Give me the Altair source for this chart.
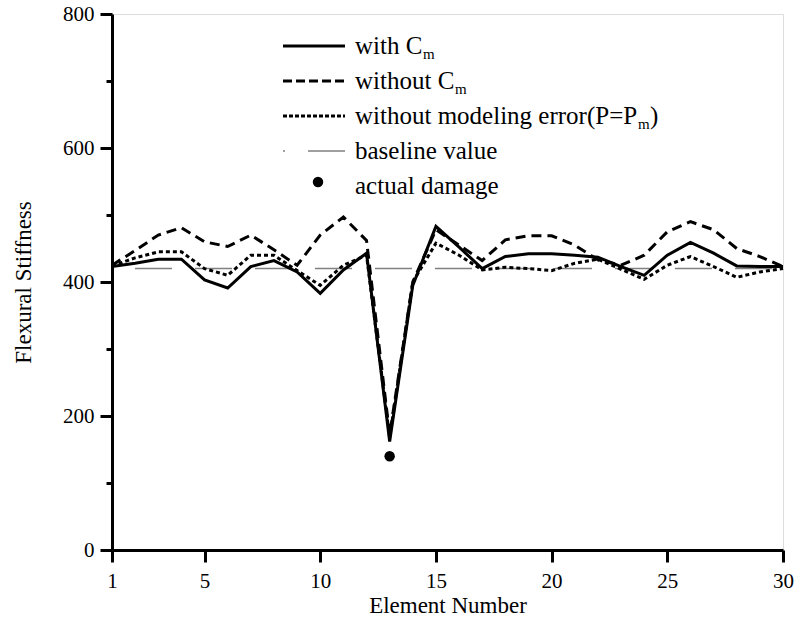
import altair as alt
import pandas as pd

# ---- data ----
elements = list(range(1, 31))
with_cm = [423, 428, 434, 434, 403, 391, 423, 432, 415, 383,
           418, 443, 162, 395, 483, 452, 420, 438, 442, 442,
           440, 437, 423, 410, 440, 459, 443, 424, 423, 423]
without_cm = [425, 447, 470, 481, 460, 453, 470, 448, 425, 470,
              497, 462, 172, 400, 478, 455, 432, 463, 469, 469,
              455, 433, 425, 440, 475, 490, 478, 450, 438, 423]
without_error = [424, 436, 445, 445, 420, 410, 440, 440, 417, 395,
                 425, 440, 168, 400, 458, 440, 418, 422, 420, 417,
                 428, 434, 419, 404, 425, 438, 423, 407, 415, 420]
baseline_value = 420
damage_element = [13]
damage_value = [140]
x_ticks = [1, 5, 10, 15, 20, 25, 30]
y_ticks = [0, 100, 200, 300, 400, 500, 600, 700, 800]

series_names = ["with", "without", "noerr"]
rows = []
for name, vals in zip(series_names, [with_cm, without_cm, without_error]):
    for e, v in zip(elements, vals):
        rows.append({"element": e, "value": v, "series": name})
df = pd.DataFrame(rows)
base_df = pd.DataFrame({"element": [elements[0], elements[-1]],
                        "value": [baseline_value, baseline_value]})
dmg_df = pd.DataFrame({"element": damage_element, "value": damage_value})
one = pd.DataFrame({"k": [0]})

FONT = "Liberation Serif"
LFS = 21   # tick labels
TFS = 23   # axis titles
GFS = 25   # legend text
SFS = 15   # subscripts

X = alt.X("element:Q",
          scale=alt.Scale(domain=[1, 30], nice=False, zero=False),
          axis=alt.Axis(values=x_ticks, title="Element Number", grid=False,
                        domainColor="black", domainWidth=3,
                        tickColor="black", tickWidth=3, tickSize=12,
                        labelFont=FONT, labelFontSize=LFS, labelColor="black",
                        labelPadding=8, labelFlush=False,
                        titleFont=FONT, titleFontSize=TFS, titleFontWeight="normal",
                        titleColor="black", titlePadding=3))
Y = alt.Y("value:Q",
          scale=alt.Scale(domain=[0, 800], nice=False),
          axis=alt.Axis(values=y_ticks, title="Flexural Stiffness", grid=False,
                        labelExpr="datum.value % 200 === 0 ? datum.label : ''",
                        domainColor="black", domainWidth=3,
                        tickColor="black", tickWidth=3,
                        tickSize={"condition": {"test": "datum.value % 200 === 0", "value": 12}, "value": 6},
                        labelFont=FONT, labelFontSize=LFS, labelColor="black",
                        labelPadding=6, labelFlush=False,
                        titleFont=FONT, titleFontSize=TFS, titleFontWeight="normal",
                        titleColor="black", titleX=-82, titleY=268,
                        titleAngle=270, titleAlign="center", titleBaseline="alphabetic"))

base = alt.Chart(df)
solid = base.transform_filter("datum.series == 'with'").mark_line(
    color="black", strokeWidth=3).encode(x=X, y=Y)
dashed = base.transform_filter("datum.series == 'without'").mark_line(
    color="black", strokeWidth=3, strokeDash=[10, 6]).encode(x=X, y=Y)
dotted = base.transform_filter("datum.series == 'noerr'").mark_line(
    color="black", strokeWidth=3, strokeDash=[4, 3]).encode(x=X, y=Y)
baseline = alt.Chart(base_df).mark_line(
    color="#808080", strokeWidth=1.5, strokeDash=[37, 23], strokeDashOffset=37).encode(x=X, y=Y)
damage = alt.Chart(dmg_df).mark_circle(color="black", opacity=1, size=110).encode(x=X, y=Y)

# ---- hand-made legend (pixel positions relative to the plot area) ----
LX1, LX2, TX = 171, 233, 243
rows_y = [32, 67, 102, 137, 172]

def lrule(y, **kw):
    return alt.Chart(one).mark_rule(color="black", strokeWidth=3, **kw).encode(
        x=alt.value(LX1), x2=alt.value(LX2), y=alt.value(y))

def ltext(x, y, s, size=GFS, dy=0):
    return alt.Chart(one).mark_text(align="left", baseline="middle", font=FONT,
                                    fontSize=size, color="black", dy=dy).encode(
        x=alt.value(x), y=alt.value(y), text=alt.value(s))

legend = [
    lrule(rows_y[0]),
    ltext(TX, rows_y[0], "with C"),
    ltext(TX + 68, rows_y[0], "m", size=SFS, dy=8),
    lrule(rows_y[1], strokeDash=[9, 4]),
    ltext(TX, rows_y[1], "without C"),
    ltext(TX + 100, rows_y[1], "m", size=SFS, dy=8),
    lrule(rows_y[2], strokeDash=[4, 2]),
    ltext(TX, rows_y[2], "without modeling error(P=P"),
    ltext(TX + 283, rows_y[2], "m", size=SFS, dy=8),
    ltext(TX + 295, rows_y[2], ")"),
    alt.Chart(one).mark_rule(color="#808080", strokeWidth=1.5, strokeDash=[37, 23],
                             strokeDashOffset=35).encode(
        x=alt.value(LX1), x2=alt.value(LX2), y=alt.value(rows_y[3])),
    ltext(TX, rows_y[3], "baseline value"),
    alt.Chart(one).mark_circle(color="black", opacity=1, size=110).encode(
        x=alt.value(206), y=alt.value(168)),
    ltext(TX, rows_y[4], "actual damage"),
]

chart = alt.layer(baseline, dotted, dashed, solid, damage, *legend).properties(
    width=671, height=536,
    padding={"left": 112, "top": 14, "right": 12, "bottom": 70},
    autosize=alt.AutoSizeParams(type="none"),
).configure_view(stroke="black", strokeWidth=3).configure(background="white")

chart.save("out.html", embed_options={"renderer": "svg", "actions": False})
